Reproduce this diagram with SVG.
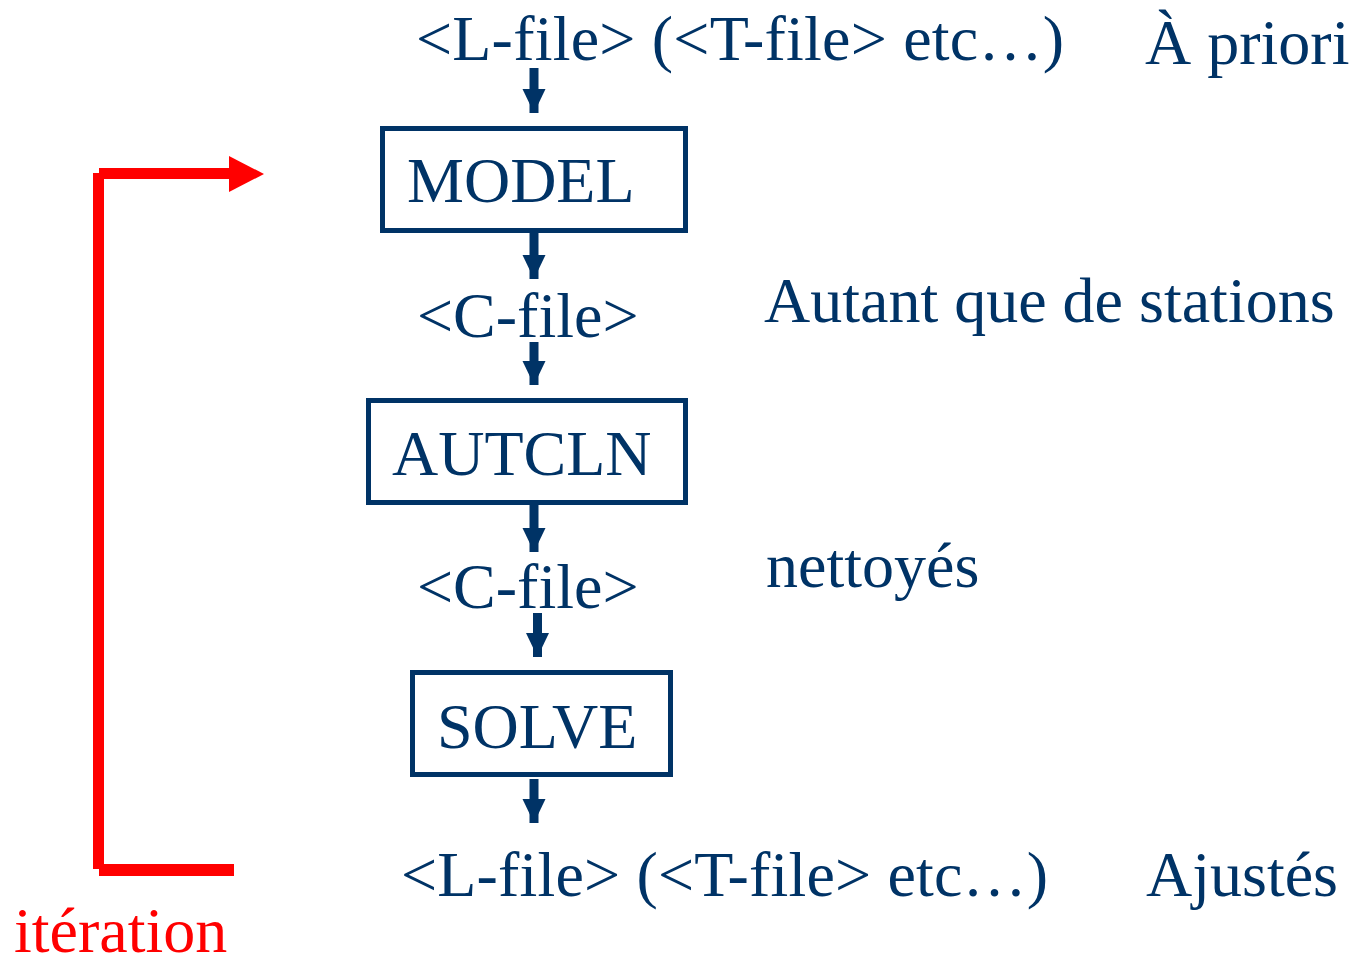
<svg xmlns="http://www.w3.org/2000/svg" width="1352" height="959" viewBox="0 0 1352 959">
  <style>
    .t { font-family: "Liberation Serif", "Times New Roman", serif; font-size: 64px; fill: #003366; }
    .red { fill: #ff0000; }
    .box { fill: none; stroke: #003366; stroke-width: 5; }
    .flow { stroke: #003366; stroke-width: 9; fill: none; marker-end: url(#head); }
  </style>
  <defs>
    <marker id="head" markerUnits="userSpaceOnUse" markerWidth="24" markerHeight="24" refX="24" refY="11.5" orient="auto">
      <path d="M0,0 L24,11.5 L0,23 z" fill="#003366"/>
    </marker>
  </defs>

  <rect width="1352" height="959" fill="#ffffff"/>

  <!-- file labels -->
  <g id="lfile-in">
    <text class="t" x="416" y="60" textLength="648" lengthAdjust="spacing">&lt;L-file&gt; (&lt;T-file&gt; etc…)</text>
  </g>
  <g id="note-apriori">
    <text class="t" x="1145" y="64">À priori</text>
  </g>

  <g id="model">
    <rect class="box" x="382.5" y="128.5" width="303" height="102"/>
    <text class="t" x="407" y="202">MODEL</text>
  </g>

  <g id="cfile-1">
    <text class="t" x="417" y="337">&lt;C-file&gt;</text>
  </g>
  <g id="note-stations">
    <text class="t" x="764" y="322">Autant que de stations</text>
  </g>

  <g id="autcln">
    <rect class="box" x="368.5" y="400.5" width="317" height="102"/>
    <text class="t" x="392" y="475">AUTCLN</text>
  </g>

  <g id="cfile-2">
    <text class="t" x="417" y="608">&lt;C-file&gt;</text>
  </g>
  <g id="note-nettoyes">
    <text class="t" x="766" y="587">nettoyés</text>
  </g>

  <g id="solve">
    <rect class="box" x="412.5" y="672.5" width="258" height="102"/>
    <text class="t" x="437" y="748">SOLVE</text>
  </g>

  <g id="lfile-out">
    <text class="t" x="401" y="896" textLength="647" lengthAdjust="spacing">&lt;L-file&gt; (&lt;T-file&gt; etc…)</text>
  </g>
  <g id="note-ajustes">
    <text class="t" x="1146" y="896">Ajustés</text>
  </g>

  <!-- iteration loop -->
  <g id="iteration">
    <rect class="red" x="93" y="173" width="11" height="696"/>
    <rect class="red" x="99" y="168" width="131" height="11"/>
    <polygon class="red" points="229,156 264,174 229,192"/>
    <rect class="red" x="99" y="864" width="135" height="12"/>
    <text class="t red" x="14" y="952">itération</text>
  </g>

  <!-- connectors -->
  <g id="connectors">
    <line class="flow" x1="534" y1="68" x2="534" y2="113"/>
    <line class="flow" x1="534" y1="233" x2="534" y2="279"/>
    <line class="flow" x1="534" y1="342" x2="534" y2="385"/>
    <line class="flow" x1="534" y1="505" x2="534" y2="552"/>
    <line class="flow" x1="537.5" y1="613" x2="537.5" y2="657"/>
    <line class="flow" x1="534" y1="779" x2="534" y2="823"/>
  </g>
</svg>
